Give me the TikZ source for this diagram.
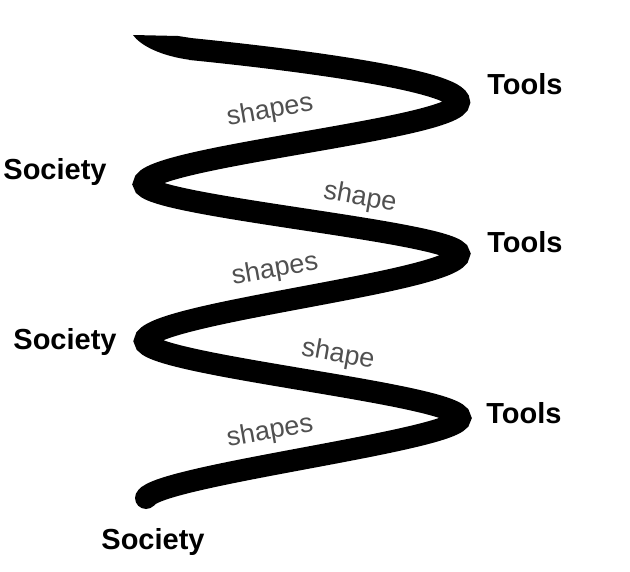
\documentclass[tikz,border=0pt]{standalone}
\usepackage{fontspec}
\setmainfont{Liberation Sans}
\definecolor{spiralink}{RGB}{0,0,0}
\definecolor{verbgray}{RGB}{80,80,80}

\begin{document}
\begin{tikzpicture}[x=1pt, y=-1pt,
    pole/.style={font=\fontsize{29}{31}\selectfont\bfseries, text=black},
    verb/.style={font=\fontsize{27}{29}\selectfont, text=verbgray},
    spiral/.style={line width=22pt, draw=spiralink, line cap=butt}]
    \useasboundingbox (0,0) rectangle (630,572);

    % Turning points of the spiral
    \coordinate (s0) at (190,49);
    \coordinate (r1) at (459,102);
    \coordinate (l1) at (144,184);
    \coordinate (r2) at (459,254);
    \coordinate (l2) at (145,341);
    \coordinate (r3) at (460,418);
    \coordinate (e0) at (146,498);

    % Spiral
    \fill[spiralink] (191,38) -- (178,36) -- (133,35) .. controls (140,45) and (160,56) .. (191,60) -- cycle;
    \draw[spiral] (s0) .. controls +(100,10) and +(0,-22) .. (r1)
        .. controls +(0,27) and +(0,-27) .. (l1)
        .. controls +(0,22) and +(0,-22) .. (r2)
        .. controls +(0,28) and +(0,-28) .. (l2)
        .. controls +(0,24) and +(0,-24) .. (r3)
        .. controls +(0,22) and +(14,-23) .. (e0);
    \fill[spiralink] (e0) circle[radius=11pt];

    % Poles
    \node[pole] (tools1) at (525,84) {Tools};
    \node[pole] (tools2) at (525,242) {Tools};
    \node[pole] (tools3) at (524,413) {Tools};
    \node[pole] (society1) at (55,172) {Society};
    \node[pole] (society2) at (65,342) {Society};
    \node[pole] (society3) at (153,542) {Society};

    % Verbs along the spiral
    \node[verb, rotate=10] (shapes1) at (270,111) {shapes};
    \node[verb, rotate=-10] (shape1) at (360,198) {shape};
    \node[verb, rotate=10] (shapes2) at (275,270) {shapes};
    \node[verb, rotate=-10] (shape2) at (338,355) {shape};
    \node[verb, rotate=10] (shapes3) at (270,432) {shapes};
\end{tikzpicture}
\end{document}
